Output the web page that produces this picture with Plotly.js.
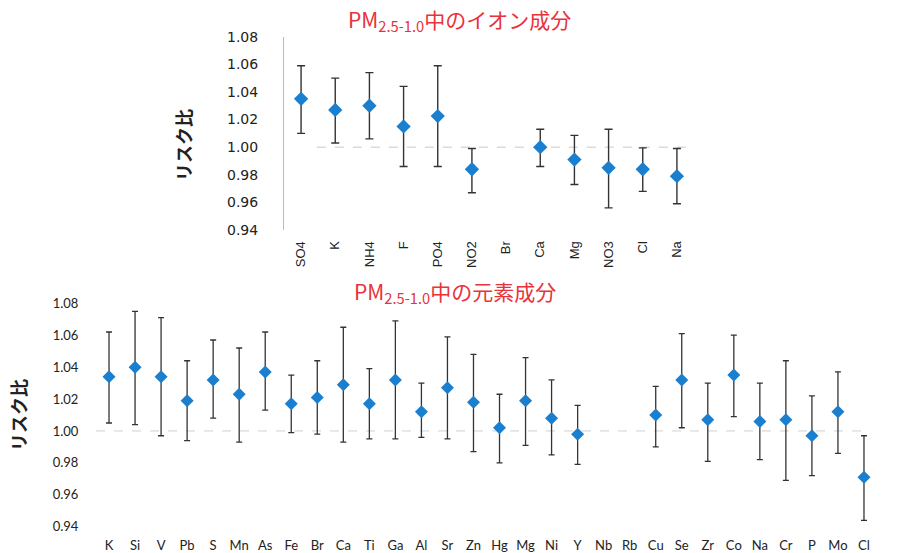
<!DOCTYPE html>
<html>
<head>
<meta charset="utf-8">
<script src="https://cdn.plot.ly/plotly-3.0.1.min.js"></script>
<style>html,body{margin:0;padding:0;background:#fff;}#chart{width:922px;height:553px;}</style>
</head>
<body>
<div id="chart"></div>
<script>
// Top chart: ion components
const ionCats = ["SO4","K","NH4","F","PO4","NO2","Br","Ca","Mg","NO3","Cl","Na"];
const ionRR   = [1.035, 1.027, 1.030, 1.015, 1.0225, 0.984, null, 1.000, 0.991, 0.985, 0.984, 0.979];
const ionHi   = [1.059, 1.050, 1.054, 1.044, 1.059, 0.999, null, 1.013, 1.0085, 1.013, 0.9995, 0.999];
const ionLo   = [1.010, 1.003, 1.006, 0.986, 0.986, 0.967, null, 0.986, 0.973, 0.956, 0.968, 0.959];

// Bottom chart: element components
const elCats = ["K","Si","V","Pb","S","Mn","As","Fe","Br","Ca","Ti","Ga","Al","Sr","Zn","Hg","Mg","Ni","Y","Nb","Rb","Cu","Se","Zr","Co","Na","Cr","P","Mo","Cl"];
const elRR   = [1.034, 1.040, 1.034, 1.019, 1.032, 1.023, 1.037, 1.017, 1.021, 1.029, 1.017, 1.032, 1.012, 1.027, 1.018, 1.002, 1.019, 1.008, 0.998, null, null, 1.010, 1.032, 1.007, 1.035, 1.006, 1.007, 0.997, 1.012, 0.971];
const elHi   = [1.062, 1.075, 1.071, 1.044, 1.057, 1.052, 1.062, 1.035, 1.044, 1.065, 1.039, 1.069, 1.030, 1.059, 1.048, 1.023, 1.046, 1.032, 1.016, null, null, 1.028, 1.061, 1.030, 1.060, 1.030, 1.044, 1.022, 1.037, 0.997];
const elLo   = [1.005, 1.004, 0.997, 0.994, 1.008, 0.993, 1.013, 0.999, 0.998, 0.993, 0.995, 0.995, 0.996, 0.995, 0.987, 0.980, 0.991, 0.985, 0.979, null, null, 0.990, 1.002, 0.981, 1.009, 0.982, 0.969, 0.972, 0.986, 0.944];

const yTicks = [0.94, 0.96, 0.98, 1.00, 1.02, 1.04, 1.06, 1.08];
const yTickText = ["0.94","0.96","0.98","1.00","1.02","1.04","1.06","1.08"];

const ionTitle = "PM<sub>2.5-1.0</sub>中のイオン成分";
const elTitle  = "PM<sub>2.5-1.0</sub>中の元素成分";
const yLabel   = "リスク比";

function errs(v, hi, lo) {
  return {
    plus: v.map((x, i) => x == null ? null : hi[i] - x),
    minus: v.map((x, i) => x == null ? null : x - lo[i])
  };
}
const e1 = errs(ionRR, ionHi, ionLo);
const e2 = errs(elRR, elHi, elLo);
const markerColor = "#1a7fcf";
const errColor = "#333333";

const traces = [
  {
    x: ionCats, y: ionRR, type: "scatter", mode: "markers", xaxis: "x", yaxis: "y",
    marker: {symbol: "diamond", size: 11, color: markerColor},
    error_y: {type: "data", symmetric: false, array: e1.plus, arrayminus: e1.minus,
              color: errColor, thickness: 1.4, width: 4},
    showlegend: false, hoverinfo: "x+y"
  },
  {
    x: elCats, y: elRR, type: "scatter", mode: "markers", xaxis: "x2", yaxis: "y2",
    marker: {symbol: "diamond", size: 10, color: markerColor},
    error_y: {type: "data", symmetric: false, array: e2.plus, arrayminus: e2.minus,
              color: errColor, thickness: 1.3, width: 3},
    showlegend: false, hoverinfo: "x+y"
  }
];

const W = 922, H = 553;
const dx = (a, b) => [a / W, b / W];
const dy = (top, bottom) => [1 - bottom / H, 1 - top / H];

const layout = {
  width: W, height: H,
  margin: {l: 0, r: 0, t: 0, b: 0},
  paper_bgcolor: "#ffffff", plot_bgcolor: "rgba(0,0,0,0)",
  font: {family: "Noto Sans CJK JP, DejaVu Sans, sans-serif", color: "#222"},
  xaxis: {
    domain: dx(284, 694), anchor: "y", type: "category", categoryorder: "array", categoryarray: ionCats,
    range: [-0.5, ionCats.length - 0.5], showgrid: false, zeroline: false, showline: false,
    tickangle: -90, ticks: "outside", ticklen: 5, tickcolor: "rgba(0,0,0,0)",
    tickfont: {family: "Liberation Sans, Arial, sans-serif", size: 13, color: "#222"}, fixedrange: true
  },
  yaxis: {
    domain: dy(36.7, 230), anchor: "x", range: [0.94, 1.08], tickvals: yTicks, ticktext: yTickText,
    showgrid: false, zeroline: false, showline: true, linecolor: "#bbbbbb", linewidth: 1,
    ticks: "outside", ticklen: 22, tickcolor: "rgba(0,0,0,0)",
    tickfont: {family: "DejaVu Sans", size: 14, color: "#222"}, fixedrange: true
  },
  xaxis2: {
    domain: dx(96, 877), anchor: "y2", type: "category", categoryorder: "array", categoryarray: elCats,
    range: [-0.5, elCats.length - 0.5], showgrid: false, zeroline: false, showline: false,
    ticks: "outside", ticklen: 7, tickcolor: "rgba(0,0,0,0)",
    tickfont: {family: "Lato, Open Sans, sans-serif", size: 13, color: "#222"}, fixedrange: true
  },
  yaxis2: {
    domain: dy(303.3, 526.7), anchor: "x2", range: [0.94, 1.08], tickvals: yTicks, ticktext: yTickText,
    showgrid: false, zeroline: false, showline: false,
    ticks: "outside", ticklen: 14, tickcolor: "rgba(0,0,0,0)",
    tickfont: {family: "Lato, Open Sans, sans-serif", size: 13, color: "#222"}, fixedrange: true
  },
  shapes: [
    {type: "line", xref: "x domain", yref: "y", x0: 0.08, x1: 0.99, y0: 1.0, y1: 1.0,
     line: {color: "#c8c8c8", width: 1, dash: "dash"}, layer: "below"},
    {type: "line", xref: "x2 domain", yref: "y2", x0: 0.0, x1: 0.99, y0: 1.0, y1: 1.0,
     line: {color: "#d0d0d0", width: 1, dash: "dash"}, layer: "below"}
  ],
  annotations: [
    {text: ionTitle, xref: "paper", yref: "paper", x: 459 / W, y: 1 - 20 / H,
     xanchor: "center", yanchor: "middle", showarrow: false,
     font: {family: "Noto Sans CJK JP", size: 21, color: "#e8333b"}},
    {text: elTitle, xref: "paper", yref: "paper", x: 455 / W, y: 1 - 292 / H,
     xanchor: "center", yanchor: "middle", showarrow: false,
     font: {family: "Noto Sans CJK JP", size: 21, color: "#e8333b"}},
    {text: "<b>" + yLabel + "</b>", xref: "paper", yref: "paper", x: 183 / W, y: 1 - 145 / H,
     xanchor: "center", yanchor: "middle", showarrow: false, textangle: -90,
     font: {family: "Noto Sans CJK JP", size: 18, color: "#222"}},
    {text: "<b>" + yLabel + "</b>", xref: "paper", yref: "paper", x: 18 / W, y: 1 - 415 / H,
     xanchor: "center", yanchor: "middle", showarrow: false, textangle: -90,
     font: {family: "Noto Sans CJK JP", size: 18, color: "#222"}}
  ]
};

Plotly.newPlot("chart", traces, layout, {displayModeBar: false, staticPlot: true});
</script>
</body>
</html>
